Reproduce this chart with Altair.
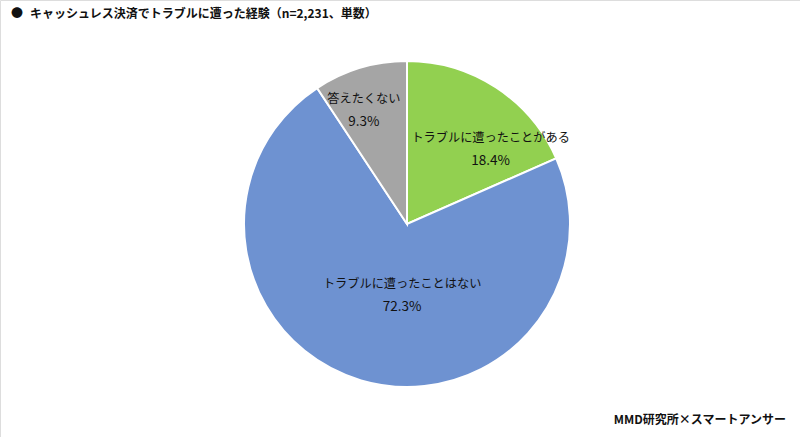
import math
import altair as alt
import pandas as pd

categories = ["トラブルに遭ったことがある", "トラブルに遭ったことはない", "答えたくない"]
values = [18.4, 72.3, 9.3]
colors = ["#92D050", "#6E92D1", "#A5A5A5"]
title_text = "キャッシュレス決済でトラブルに遭った経験（n=2,231、単数）"
footer_text = "MMD研究所×スマートアンサー"

df = pd.DataFrame({
    "cat": categories,
    "val": values,
    "order": list(range(len(categories))),
    "pct": [f"{v:.1f}%" for v in values],
})

FONT = "Noto Sans CJK JP"
CX, CY, R = 407, 224, 163
TWO_PI = 2 * math.pi

pie = alt.Chart(df).mark_arc(outerRadius=R, stroke="white", strokeWidth=2).encode(
    theta=alt.Theta("val:Q", stack=True),
    order=alt.Order("order:Q"),
    x=alt.value(CX), y=alt.value(CY),
    color=alt.Color("cat:N", scale=alt.Scale(domain=categories, range=colors), legend=None),
)

lab_base = alt.Chart(df).transform_joinaggregate(
    total="sum(val)"
).transform_window(
    cum="sum(val)", sort=[alt.SortField("order")], frame=[None, 0]
).transform_calculate(
    mid=f"(datum.cum - datum.val / 2) / datum.total * {TWO_PI}"
)

def label_layer(cat, radius, dx, dy):
    b = lab_base.transform_filter(alt.datum.cat == cat).encode(
        theta=alt.Theta("mid:Q", stack=None, scale=alt.Scale(domain=[0, TWO_PI], range=[0, TWO_PI])),
        x=alt.value(CX), y=alt.value(CY),
    )
    name = b.mark_text(radius=radius, dx=dx, dy=dy - 11, font=FONT, fontSize=12.2, color="#111111").encode(
        text="cat:N")
    pct = b.mark_text(radius=radius, dx=dx, dy=dy + 12, font=FONT, fontSize=13.5, color="#111111").encode(
        text="pct:N")
    return name + pct

l1 = label_layer(categories[0], 111, 23, 18)
l2 = label_layer(categories[1], 74, 16, 0)
l3 = label_layer(categories[2], 122, -8, 3)
labels = alt.layer(l1, l2, l3)

bullet = alt.Chart(pd.DataFrame({"t": ["●"]})).mark_text(
    align="left", baseline="middle", font=FONT, fontSize=12, color="#111111"
).encode(x=alt.value(11), y=alt.value(14), text="t:N")

title = alt.Chart(pd.DataFrame({"t": [title_text]})).mark_text(
    align="left", baseline="middle", font=FONT, fontSize=12, fontWeight="bold", color="#111111"
).encode(x=alt.value(30), y=alt.value(14), text="t:N")

footer = alt.Chart(pd.DataFrame({"t": [footer_text]})).mark_text(
    align="right", baseline="middle", font=FONT, fontSize=12, fontWeight="bold", color="#111111"
).encode(x=alt.value(786), y=alt.value(420), text="t:N")

chart = alt.layer(pie, labels, bullet, title, footer).resolve_scale(
    theta="independent"
).properties(
    width=800, height=437, autosize=alt.AutoSizeParams(type="none"), padding=0
).configure_view(stroke=None).configure(background="white")

chart.save("out.html", embed_options={"renderer": "svg", "actions": False})
